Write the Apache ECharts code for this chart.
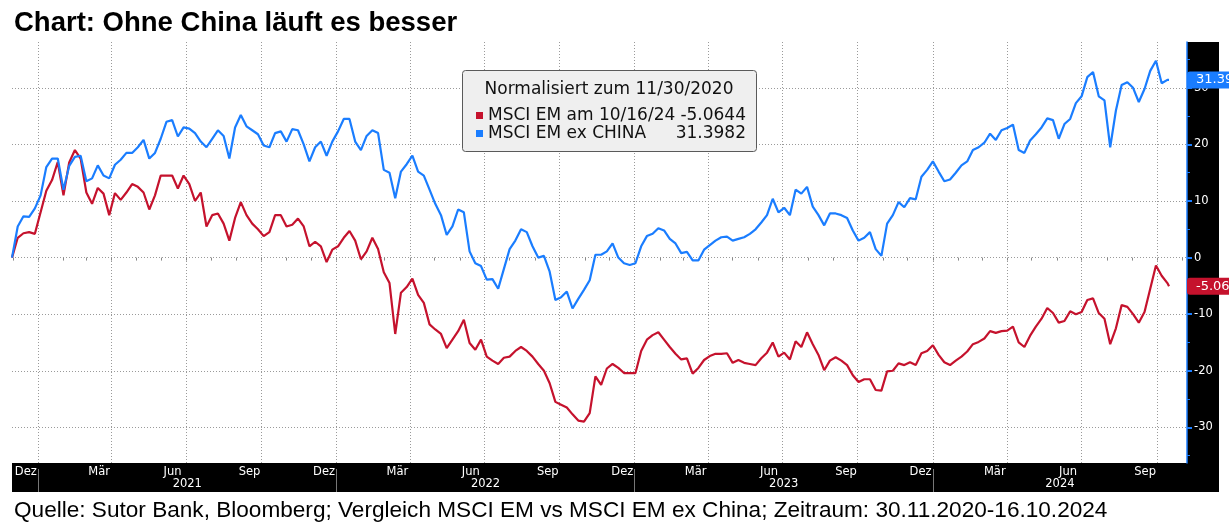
<!DOCTYPE html>
<html>
<head>
<meta charset="utf-8">
<title>Chart: Ohne China läuft es besser</title>
<script src="https://cdn.jsdelivr.net/npm/echarts@6/dist/echarts.min.js"></script>
<style>
  html, body { margin: 0; padding: 0; background: #fff; }
  #chart { width: 1229px; height: 530px; }
</style>
</head>
<body>
<div id="chart"></div>
<script>
// weekly readings from 30.11.2020, last point is 16.10.2024 (normalised, %)
const seriesNames = ['MSCI EM am 10/16/24', 'MSCI EM ex CHINA'];

const emValues = [
  0, 3.5, 4.3, 4.5, 4.2, 8, 11.8, 13.7, 16.9, 11,
  16.8, 19, 17.5, 11.5, 9.5, 12.3, 11.3, 7.5, 11.4, 10.2,
  11.5, 13, 12.5, 11.5, 8.5, 11, 14.5, 14.5, 14.5, 12.2,
  14.5, 13, 10, 11.5, 5.5, 7.5, 7.8, 6, 3, 7,
  9.8, 7.5, 6, 5, 3.8, 4.5, 7.5, 7.5, 5.5, 5.8,
  6.9, 5.5, 2, 2.8, 2, -0.8, 1.4, 2, 3.5, 4.7,
  3, -0.3, 1.1, 3.5, 1.5, -2.6, -4.5, -13.5, -6.2, -5.2,
  -3.7, -6.6, -8, -11.8, -12.7, -13.5, -16, -14.5, -13, -11,
  -15.1, -16.3, -14.5, -17.5, -18.2, -18.8, -17.7, -17.5, -16.5, -15.8,
  -16.5, -17.5, -18.8, -20, -22.2, -25.5, -26, -26.5, -27.7, -28.8,
  -29, -27.5, -21, -22.5, -19.6, -18.8, -19.5, -20.4, -20.4, -20.4,
  -16.5, -14.5, -13.7, -13.2, -14.5, -15.8, -17, -18, -17.8, -20.5,
  -19.5, -18.1, -17.4, -17, -17, -16.9, -18.6, -18.1, -18.6, -18.8,
  -19, -17.8, -16.8, -15, -17.5, -16.8, -18, -14.8, -15.8, -13.2,
  -15.3, -17.2, -19.9, -18.2, -17.6, -18.2, -19, -20.8, -22, -21.5,
  -21.5, -23.4, -23.5, -20.1, -20, -18.7, -19, -18.5, -19, -16.9,
  -16.5, -15.5, -17.2, -18.5, -19, -18.2, -17.5, -16.6, -15.3, -14.9,
  -14.3, -13, -13.3, -13, -12.9, -12.2, -15, -15.8, -13.8, -12.2,
  -10.8, -8.9, -9.8, -11.5, -11.2, -9.5, -10, -9.6, -7.5, -7.2,
  -9.8, -10.8, -15.3, -12.5, -8.4, -8.7, -10, -11.5, -9.6, -5.5,
  -1.4, -3.2, -4.5, -5.0644
];

const exChinaValues = [
  0, 5.5, 7.3, 7.2, 8.7, 11, 16, 17.5, 17.5, 12,
  16.2, 17.8, 18, 13.5, 14, 16.3, 14.5, 14, 16.4, 17.3,
  18.5, 18.5, 19.5, 20.8, 17.5, 18.5, 21, 24, 24.3, 21.4,
  23, 22.8, 22, 20.5, 19.5, 21, 22.5, 21.5, 17.5, 23,
  25.2, 23.2, 22.5, 21.8, 19.8, 19.5, 22, 22.3, 20.5, 22.7,
  22.5, 20, 17, 19.5, 20.5, 18, 20.5, 22.3, 24.5, 24.5,
  20.5, 19, 21.5, 22.5, 22, 15.5, 15, 10.5, 15.2, 16.5,
  18, 15.2, 14.5, 12, 9.5, 7.5, 4, 5.5, 8.5, 8,
  1.1, -1, -1.5, -3.9, -3.8, -5.5, -2, 1.5, 3, 5,
  4.5, 2, 0, 0.3, -2.5, -7.5, -7, -6, -9, -7.3,
  -5.7, -4, 0.5, 0.5, 1.1, 2.5, 0, -1, -1.3, -1,
  2, 3.8, 4.2, 5.2, 4.8, 3.3, 2.5, 0.8, 1, -0.5,
  -0.5, 1.4, 2.2, 3, 3.6, 3.7, 3, 3.3, 3.6, 4.2,
  5, 6.2, 7.5, 10.4, 8, 8.8, 7.5, 12, 11.3, 12.5,
  9, 7.5, 5.7, 7.8, 7.8, 7.5, 7, 4.8, 3, 3.5,
  4.5, 1.5, 0.3, 6, 7.5, 9.8, 8.9, 10.5, 10.3, 14.3,
  15.5, 17, 15.2, 13.5, 13.8, 15, 16.3, 17, 19, 19.5,
  20.3, 21.9, 20.8, 22.5, 22.9, 23.5, 19, 18.5, 20.7, 21.8,
  23, 24.6, 24.3, 21, 23.6, 24.5, 27.3, 28.5, 31.9, 32.8,
  28.5, 27.8, 19.5, 26, 30.5, 31, 30, 27.5, 29.8, 33,
  34.8, 30.8, 31.4, 31.3982
];

const monthNames = ['Jan', 'Feb', 'Mär', 'Apr', 'Mai', 'Jun', 'Jul', 'Aug', 'Sep', 'Okt', 'Nov', 'Dez'];
const yearLabels = ['2021', '2022', '2023', '2024'];
const yMajorTicks = [-30, -20, -10, 0, 10, 20, 30];
const yMinorTicks = [-35, -25, -15, -5, 5, 15, 25, 35];

const RED = '#c5122d';
const BLUE = '#1a7dff';

function day(y, m, d) {
  return new Date(y, m - 1, d).getTime();
}

// x axis is a plain value axis holding timestamps
const xMin = day(2020, 11, 30);
const xMax = day(2024, 11, 7);

let dates = [];
for (let i = 0; i < emValues.length - 1; i++) {
  dates.push(day(2020, 11, 30 + 7 * i));
}
dates.push(day(2024, 10, 16));

let monthStarts = [];
for (let k = 0; k < 48; k++) monthStarts.push(day(2020, 12 + k, 1));
const labelMonths = monthStarts.filter(t => new Date(t).getMonth() % 3 === 2);
const quarterStarts = monthStarts.filter(t => new Date(t).getMonth() % 3 === 0);
const yearStarts = yearLabels.map(y => day(+y, 1, 1));
const yearMids = yearStarts.map((t, k) => {
  let end = k + 1 < yearStarts.length ? yearStarts[k + 1] : xMax;
  return (t + Math.min(end, xMax)) / 2;
});

const emLast = emValues[emValues.length - 1];
const exLast = exChinaValues[exChinaValues.length - 1];

function tagText(v) {
  return (Math.trunc(v * 100) / 100).toFixed(2);
}

function endTag(v, color) {
  return {
    silent: true,
    symbol: ['none', 'none'],
    animation: false,
    lineStyle: { color: 'rgba(0,0,0,0)', width: 0, type: 'solid' },
    label: {
      show: true,
      position: 'end',
      distance: 0,
      opacity: 1,
      formatter: () => tagText(v),
      color: '#fff',
      backgroundColor: color,
      borderRadius: [3, 0, 0, 3],
      padding: [2, 6, 2, 9],
      fontFamily: 'DejaVu Sans',
      fontSize: 13
    },
    data: [{ yAxis: v }]
  };
}

let chart = echarts.init(document.getElementById('chart'));

const axisFont = { fontFamily: 'DejaVu Sans', fontSize: 11.5, color: '#fff' };
const dotted = { color: '#9a9a9a', type: [1, 2], width: 1 };

chart.setOption({
  animation: false,
  backgroundColor: '#fff',
  grid: { left: 12, right: 42, top: 42, bottom: 67, containLabel: false },
  legend: {
    data: seriesNames,
    orient: 'vertical',
    left: 471,
    top: 102,
    z: 20,
    selectedMode: false,
    icon: 'rect',
    itemWidth: 7,
    itemHeight: 7,
    itemGap: 1,
    formatter: name => {
      let v = name === seriesNames[0] ? emLast : exLast;
      return '{n|' + name + '}{v|' + v.toFixed(4) + '}';
    },
    textStyle: {
      fontFamily: 'DejaVu Sans',
      fontSize: 17,
      color: '#111',
      rich: {
        n: { fontFamily: 'DejaVu Sans', fontSize: 17, lineHeight: 17, width: 187, color: '#111' },
        v: { fontFamily: 'DejaVu Sans', fontSize: 17, lineHeight: 17, width: 71, align: 'right', color: '#111' }
      }
    }
  },
  xAxis: [
    {
      type: 'value', min: xMin, max: xMax, position: 'bottom',
      axisLine: { show: false },
      axisTick: { show: true, customValues: monthStarts, length: 3, lineStyle: { color: '#8a8a8a' } },
      axisLabel: Object.assign({
        customValues: labelMonths, align: 'left', margin: 3, padding: [0, 0, 0, 2],
        formatter: v => monthNames[new Date(v).getMonth()]
      }, axisFont),
      splitLine: { show: false }
    },
    {
      type: 'value', min: xMin, max: xMax, position: 'bottom',
      axisLine: { show: false },
      axisTick: { show: false, customValues: quarterStarts },
      axisLabel: { show: false },
      splitLine: { show: true, lineStyle: dotted }
    },
    {
      type: 'value', min: xMin, max: xMax, position: 'bottom', offset: 6,
      axisLine: { show: false },
      axisTick: { show: true, customValues: yearStarts, length: 23, lineStyle: { color: '#777' } },
      axisLabel: Object.assign({
        customValues: yearMids, margin: 9,
        formatter: v => String(new Date(v).getFullYear())
      }, axisFont),
      splitLine: { show: false }
    }
  ],
  yAxis: [
    {
      type: 'value', position: 'right', min: -36.3, max: 38.1,
      axisLine: { show: true, lineStyle: { color: BLUE, width: 1.5 } },
      axisTick: { show: true, customValues: yMajorTicks, length: 5, lineStyle: { color: BLUE, width: 2 } },
      axisLabel: Object.assign({ customValues: yMajorTicks, margin: 7, formatter: v => String(v) }, axisFont),
      splitLine: { show: true, lineStyle: dotted }
    },
    {
      type: 'value', position: 'right', min: -36.3, max: 38.1,
      axisLine: { show: false },
      axisTick: { show: true, customValues: yMinorTicks, length: 3, lineStyle: { color: BLUE, width: 1 } },
      axisLabel: { show: false },
      splitLine: { show: false }
    }
  ],
  series: [
    {
      name: seriesNames[0],
      type: 'line',
      xAxisIndex: 0, yAxisIndex: 0,
      data: dates.map((d, i) => [d, emValues[i]]),
      showSymbol: false,
      symbol: 'none',
      color: RED,
      lineStyle: { width: 2.2, color: RED },
      z: 3,
      markLine: endTag(emLast, RED)
    },
    {
      name: seriesNames[1],
      type: 'line',
      xAxisIndex: 0, yAxisIndex: 0,
      data: dates.map((d, i) => [d, exChinaValues[i]]),
      showSymbol: false,
      symbol: 'none',
      color: BLUE,
      lineStyle: { width: 2.2, color: BLUE },
      z: 4,
      markLine: endTag(exLast, BLUE)
    }
  ],
  graphic: {
    elements: [
      { type: 'rect', z: -10, shape: { x: 1187, y: 42, width: 32, height: 450 }, style: { fill: '#000' } },
      { type: 'rect', z: -10, shape: { x: 12, y: 463, width: 1207, height: 29 }, style: { fill: '#000' } },
      {
        type: 'rect', z: 10,
        shape: { x: 462.5, y: 70.5, width: 294, height: 81, r: 3 },
        style: { fill: '#efefef', stroke: '#5a5a5a', lineWidth: 1 }
      },
      {
        type: 'text', z: 11, x: 609, y: 90,
        style: { text: 'Normalisiert zum 11/30/2020', font: '17px "DejaVu Sans"', fill: '#111', align: 'center', verticalAlign: 'middle' }
      },
      {
        type: 'text', z: 11, x: 14, y: 23,
        style: { text: 'Chart: Ohne China läuft es besser', font: 'bold 27.5px "Liberation Sans"', fill: '#000', align: 'left', verticalAlign: 'middle' }
      },
      {
        type: 'text', z: 11, x: 14, y: 511,
        style: { text: 'Quelle: Sutor Bank, Bloomberg; Vergleich MSCI EM vs MSCI EM ex China; Zeitraum: 30.11.2020-16.10.2024', font: '22.6px "Liberation Sans"', fill: '#000', align: 'left', verticalAlign: 'middle' }
      }
    ]
  }
});
</script>
</body>
</html>
